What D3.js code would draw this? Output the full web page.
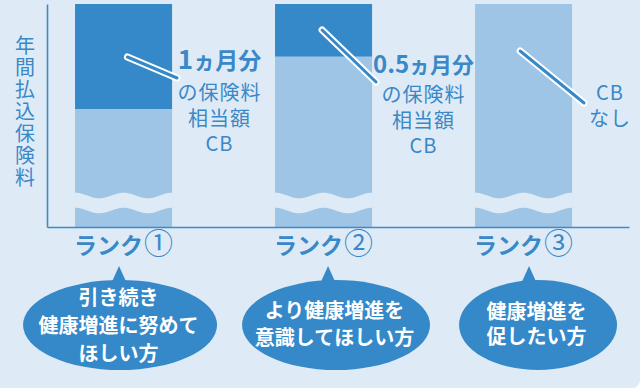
<!DOCTYPE html>
<html><head><meta charset="utf-8">
<script src="https://cdn.jsdelivr.net/npm/d3@7"></script>
<style>
html,body{margin:0;padding:0;background:#fff;}
svg{display:block;font-family:"Noto Sans CJK JP","Noto Sans",sans-serif;}
</style></head>
<body>
<svg id="c" width="643" height="390"></svg>
<script>
// ---- data ----
const categories = ["ランク①", "ランク②", "ランク③"];
const annualMonths = [12, 12, 12];      // annual premium (months)
const cbMonths = [1, 0.5, 0];           // cash back (months of premium)
const cbTitle = ["1", "0.5", null];
const cbLines = [["の保険料", "相当額", "CB"], ["の保険料", "相当額", "CB"], ["CB", "なし"]];
const bubbleTexts = [["引き続き", "健康増進に努めて", "ほしい方"], ["より健康増進を", "意識してほしい方"], ["健康増進を", "促したい方"]];
const yTitle = "年間払込保険料";

// ---- layout / style ----
const DARK = "#3589c9", LIGHT = "#9fc5e6", BG = "#deebf6", TXT = "#3a88c8";
const svg = d3.select("#c");

svg.append("rect").attr("x", -10).attr("y", -10).attr("width", 650).attr("height", 398)
  .attr("rx", 8).attr("fill", BG);

const x = d3.scaleBand().domain(categories).range([47, 629])
  .paddingInner(0.515).paddingOuter(0.2125).align(0.33);
const y = d3.scaleLinear().domain([0, 10, 12]).range([227, 214, 4]); // broken axis
const bw = x.bandwidth();

const rows = categories.map((c, i) => ({c, i, total: annualMonths[i], cb: cbMonths[i]}));

// bars
const g = svg.append("g");
g.selectAll("rect.base").data(rows).join("rect").attr("class", "base")
  .attr("x", d => x(d.c)).attr("width", bw)
  .attr("y", d => y(d.total)).attr("height", d => y(0) - y(d.total))
  .attr("fill", LIGHT);
g.selectAll("rect.cb").data(rows.filter(d => d.cb > 0)).join("rect").attr("class", "cb")
  .attr("x", d => x(d.c)).attr("width", bw)
  .attr("y", d => y(d.total)).attr("height", d => y(d.total - d.cb) - y(d.total))
  .attr("fill", DARK);

// wave break
const waveMid = y(10) - 18.5, amp = 2.8, period = bw / 2, gap = 15;
function wavePath(x0) {
  const pts = d3.range(0, bw + 0.5, 1);
  const top = pts.map(t => [x0 + t, waveMid - amp * Math.cos(2 * Math.PI * t / period)]);
  const bot = pts.map(t => [x0 + t, waveMid + gap - amp * Math.cos(2 * Math.PI * t / period)]).reverse();
  return "M" + top.concat(bot).map(p => p.join(",")).join("L") + "Z";
}
g.selectAll("path.wave").data(rows).join("path").attr("class", "wave")
  .attr("d", d => wavePath(x(d.c))).attr("fill", BG);

// axes
const xAxis = svg.append("g").attr("transform", `translate(0,${y(0)})`)
  .call(d3.axisBottom(x).tickSize(0).tickSizeOuter(0).tickPadding(0));
const yAxis = svg.append("g").attr("transform", `translate(47,0)`)
  .call(d3.axisLeft(y).tickValues([]).tickSizeOuter(0));
[xAxis, yAxis].forEach(a => a.select(".domain").attr("stroke", "#3d8ac9").attr("stroke-width", 1.6));

// rank labels (axis tick text)
xAxis.selectAll(".tick text").each(function(d) {
  const t = d3.select(this);
  t.text(null).attr("y", 23).attr("dy", "0.35em").attr("fill", TXT).attr("font-family", '"Noto Sans CJK JP"');
  t.append("tspan").attr("font-size", 23).attr("font-weight", 700).text(d.slice(0, 3));
  t.append("tspan").attr("font-size", 29).attr("font-weight", 400).attr("dx", 1).text(d.slice(3));
});

// y title
svg.append("text").attr("x", 25).attr("y", 112)
  .attr("text-anchor", "middle")
  .style("writing-mode", "vertical-rl")
  .attr("font-size", 20).attr("letter-spacing", 2).attr("fill", TXT)
  .text(yTitle);

// callout lines
const callout = [
  {sx: 0.54, sy: 57, ex: 5, ey: 78},
  {sx: 0.485, sy: 30, ex: 4, ey: 82},
  {sx: 0.465, sy: 51, ex: 12, ey: 103}
];
rows.forEach((d, i) => {
  const c = callout[i], x0 = x(d.c);
  const p = [[x0 + bw * c.sx, c.sy], [x0 + bw + c.ex, c.ey]];
  const line = d3.line();
  svg.append("path").attr("d", line(p)).attr("stroke", "#fff").attr("stroke-width", 7)
    .attr("stroke-linecap", "round").attr("fill", "none");
  svg.append("path").attr("d", line(p)).attr("stroke", DARK).attr("stroke-width", 3)
    .attr("stroke-linecap", "round").attr("fill", "none");
});

// CB labels: one text element per block
const labelPos = [
  {dx: 47.5, ty: 60, y0: 93, fs: [26, 22, 23]},
  {dx: 51.5, ty: 64, y0: 95, fs: [24, 21, 22]},
  {dx: 38, ty: 0, y0: 93, fs: null}
];
rows.forEach((d, i) => {
  const lp = labelPos[i], cx = x(d.c) + bw + lp.dx;
  const t = svg.append("text").attr("text-anchor", "middle").attr("fill", TXT);
  if (cbTitle[i] !== null) {
    const l = t.append("tspan").attr("x", cx).attr("y", lp.ty + 8.5).attr("font-weight", 700);
    l.append("tspan").attr("font-size", lp.fs[0]).text(cbTitle[i]);
    l.append("tspan").attr("font-size", lp.fs[1]).text("ヵ");
    l.append("tspan").attr("font-size", lp.fs[2]).text("月分");
  }
  cbLines[i].forEach((s, k) => {
    t.append("tspan").attr("x", cx).attr("y", lp.y0 + k * 25.5 + 7)
      .attr("font-size", 20).attr("letter-spacing", 1).text(s);
  });
});

// bubbles
const bubble = [
  {cx: -3.5, rx: 97, tip: -4.5, ty: [298, 326, 354]},
  {cx: 12.5, rx: 94, tip: 4.5, ty: [311, 338]},
  {cx: 14.5, rx: 79, tip: 5.5, ty: [312, 337]}
];
rows.forEach((d, i) => {
  const b = bubble[i], mid = x(d.c) + bw / 2;
  const bx = mid + b.cx, tx = mid + b.tip;
  svg.append("path").attr("d", `M${tx},266L${tx - 9},286L${tx + 9},286Z`).attr("fill", DARK);
  svg.append("ellipse").attr("cx", bx).attr("cy", 325).attr("rx", b.rx).attr("ry", 45).attr("fill", DARK);
  const t = svg.append("text").attr("text-anchor", "middle")
    .attr("font-size", 20).attr("font-weight", 700).attr("fill", "#fff");
  bubbleTexts[i].forEach((s, k) => {
    t.append("tspan").attr("x", bx - 1.5).attr("y", b.ty[k] + 7).text(s);
  });
});
</script>
</body></html>
